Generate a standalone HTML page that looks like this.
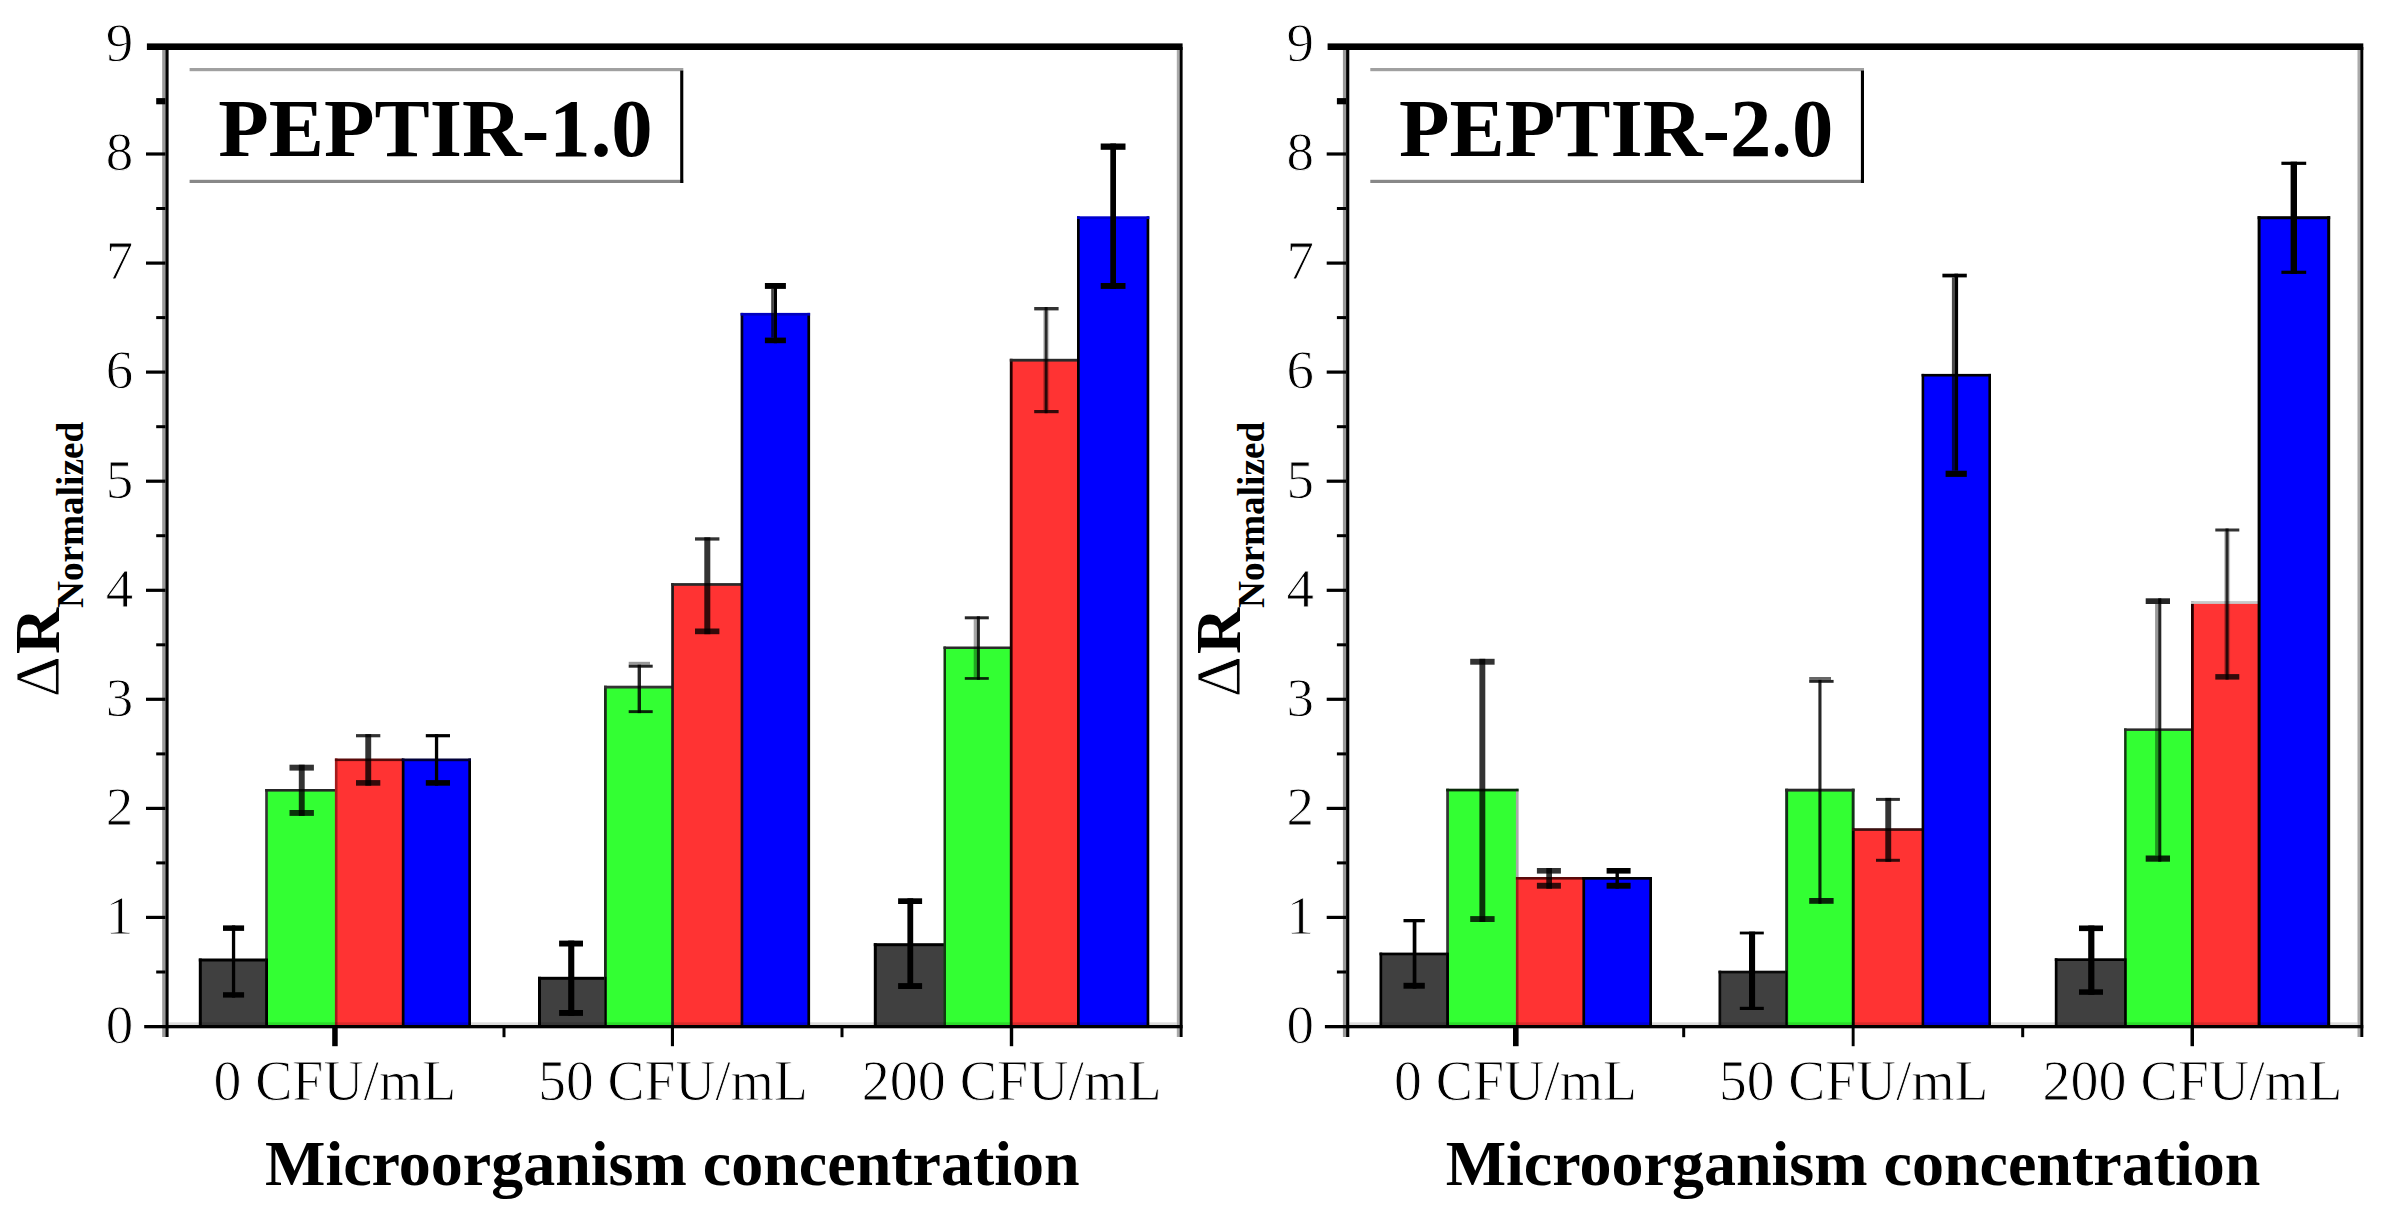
<!DOCTYPE html>
<html lang="en">
<head>
<meta charset="utf-8">
<title>PEPTIR-1.0 / PEPTIR-2.0 normalized response</title>
<style>
html,body{margin:0;padding:0;background:#fff;}
body{width:2381px;height:1211px;overflow:hidden;}
svg{display:block;}
text{font-family:"Liberation Serif","Times New Roman",serif;fill:#000;}
.tk{font-size:55px;stroke:#fff;stroke-width:0.9px;}
.xl{font-size:58px;stroke:#fff;stroke-width:0.9px;}
.xt{font-size:64px;font-weight:bold;}
.lg{font-size:82.5px;font-weight:bold;}
.yd{font-size:64px;stroke:#fff;stroke-width:0.8px;}
.yr{font-size:64px;font-weight:bold;}
.ys{font-size:38px;font-weight:bold;}
</style>
</head>
<body>
<svg width="2381" height="1211" viewBox="0 0 2381 1211">
<rect x="0" y="0" width="2381" height="1211" fill="#fff"/>
<g id="chart-left">
<rect x="200.3" y="960.0" width="67.7" height="65.5" fill="#404040"/>
<rect x="198.8" y="958.5" width="3.0" height="67.0" fill="#000"/>
<rect x="198.8" y="958.5" width="69.2" height="3.0" fill="#000"/>
<rect x="266.5" y="790.3" width="69.5" height="235.2" fill="#33ff33"/>
<rect x="265.2" y="789.0" width="2.6" height="236.5" fill="#333"/>
<rect x="265.2" y="789.0" width="70.8" height="2.6" fill="#262626"/>
<rect x="336.2" y="759.8" width="66.8" height="265.7" fill="#ff3333"/>
<rect x="334.9" y="758.5" width="2.6" height="267.0" fill="#a51c1c"/>
<rect x="334.9" y="758.5" width="68.1" height="2.6" fill="#5a0a0a"/>
<rect x="403.2" y="759.9" width="66.5" height="265.6" fill="#0000ff"/>
<rect x="401.8" y="758.5" width="2.7" height="267.0" fill="#000"/>
<rect x="468.3" y="758.5" width="2.7" height="267.0" fill="#000"/>
<rect x="401.8" y="758.5" width="69.2" height="2.7" fill="#00003a"/>
<rect x="539.5" y="978.3" width="67.1" height="47.2" fill="#404040"/>
<rect x="538.0" y="976.8" width="3.0" height="48.7" fill="#000"/>
<rect x="538.0" y="976.8" width="68.6" height="3.0" fill="#000"/>
<rect x="605.4" y="687.1" width="67.6" height="338.4" fill="#33ff33"/>
<rect x="604.0" y="685.7" width="2.8" height="339.8" fill="#1c2c1c"/>
<rect x="604.0" y="685.7" width="69.0" height="2.8" fill="#333"/>
<rect x="672.6" y="584.5" width="69.4" height="441.0" fill="#ff3333"/>
<rect x="671.2" y="583.1" width="2.7" height="442.4" fill="#1a1a1a"/>
<rect x="671.2" y="583.1" width="70.8" height="2.7" fill="#2a2a2a"/>
<rect x="742.0" y="314.2" width="66.8" height="711.2" fill="#0000ff"/>
<rect x="740.6" y="312.9" width="2.7" height="712.6" fill="#00001a"/>
<rect x="807.4" y="312.9" width="2.7" height="712.6" fill="#000"/>
<rect x="740.6" y="312.9" width="69.5" height="2.7" fill="#0000c0"/>
<rect x="875.3" y="944.7" width="71.0" height="80.8" fill="#404040"/>
<rect x="873.8" y="943.2" width="3.0" height="82.3" fill="#000"/>
<rect x="873.8" y="943.2" width="72.5" height="3.0" fill="#000"/>
<rect x="944.8" y="647.8" width="66.8" height="377.8" fill="#33ff33"/>
<rect x="943.5" y="646.5" width="2.5" height="379.0" fill="#123a12"/>
<rect x="943.5" y="646.5" width="68.0" height="2.5" fill="#2a2a2a"/>
<rect x="1011.2" y="360.2" width="67.8" height="665.3" fill="#ff3333"/>
<rect x="1009.8" y="358.8" width="2.8" height="666.7" fill="#200000"/>
<rect x="1009.8" y="358.8" width="69.2" height="2.8" fill="#2a2a2a"/>
<rect x="1078.3" y="217.7" width="69.6" height="807.9" fill="#0000ff"/>
<rect x="1077.0" y="216.3" width="2.7" height="809.2" fill="#000"/>
<rect x="1146.6" y="216.3" width="2.7" height="809.2" fill="#000"/>
<rect x="1077.0" y="216.3" width="72.3" height="2.7" fill="#0000d0"/>
<rect x="265.2" y="958.5" width="2.8" height="67.0" fill="#000"/>
<rect x="604.8" y="976.8" width="1.6" height="48.7" fill="#000"/>
<rect x="231.9" y="925.4" width="3.3" height="72.2" fill="#000"/>
<rect x="223.0" y="925.4" width="21.1" height="5.5" fill="#000"/>
<rect x="223.0" y="992.2" width="21.1" height="5.4" fill="#000"/>
<rect x="298.8" y="764.7" width="5.9" height="51.2" fill="#000" fill-opacity="0.8"/>
<rect x="289.5" y="764.7" width="24.4" height="5.9" fill="#000" fill-opacity="0.8"/>
<rect x="289.5" y="810.0" width="24.4" height="5.9" fill="#000" fill-opacity="0.8"/>
<rect x="365.3" y="734.1" width="5.9" height="51.6" fill="#000" fill-opacity="0.8"/>
<rect x="356.0" y="734.1" width="24.3" height="3.2" fill="#000" fill-opacity="0.8"/>
<rect x="356.0" y="780.1" width="24.3" height="5.6" fill="#000" fill-opacity="0.8"/>
<rect x="434.9" y="734.1" width="3.3" height="51.6" fill="#000"/>
<rect x="425.8" y="734.1" width="24.2" height="3.2" fill="#000"/>
<rect x="425.8" y="780.1" width="24.2" height="5.6" fill="#000"/>
<rect x="568.2" y="940.6" width="6.1" height="75.3" fill="#000"/>
<rect x="559.1" y="940.6" width="23.9" height="5.9" fill="#000"/>
<rect x="559.1" y="1010.0" width="23.9" height="5.9" fill="#000"/>
<rect x="637.6" y="664.7" width="3.4" height="48.4" fill="#000" fill-opacity="0.85"/>
<rect x="628.7" y="664.7" width="24.0" height="3.0" fill="#000" fill-opacity="0.85"/>
<rect x="628.7" y="710.2" width="24.0" height="2.9" fill="#000" fill-opacity="0.85"/>
<rect x="628.7" y="661.8" width="21.3" height="2.9" fill="#000" fill-opacity="0.4"/>
<rect x="704.3" y="537.3" width="6.0" height="96.9" fill="#000" fill-opacity="0.8"/>
<rect x="695.0" y="537.3" width="24.4" height="3.3" fill="#000" fill-opacity="0.8"/>
<rect x="695.0" y="628.5" width="24.4" height="5.7" fill="#000" fill-opacity="0.8"/>
<rect x="773.8" y="283.0" width="3.2" height="60.2" fill="#000"/>
<rect x="764.9" y="283.0" width="21.0" height="5.9" fill="#000"/>
<rect x="764.9" y="337.6" width="21.0" height="5.6" fill="#000"/>
<rect x="771.2" y="288.9" width="2.6" height="48.7" fill="#000" fill-opacity="0.75"/>
<rect x="907.4" y="898.3" width="5.8" height="90.7" fill="#000"/>
<rect x="898.1" y="898.3" width="24.0" height="5.7" fill="#000"/>
<rect x="898.1" y="983.1" width="24.0" height="5.9" fill="#000"/>
<rect x="976.8" y="616.3" width="3.1" height="63.5" fill="#000" fill-opacity="0.85"/>
<rect x="964.8" y="616.3" width="24.0" height="3.0" fill="#000" fill-opacity="0.85"/>
<rect x="964.8" y="677.1" width="24.0" height="2.7" fill="#000" fill-opacity="0.85"/>
<rect x="973.7" y="619.3" width="3.1" height="57.8" fill="#000" fill-opacity="0.35"/>
<rect x="1044.6" y="307.0" width="3.0" height="106.2" fill="#000" fill-opacity="0.8"/>
<rect x="1034.2" y="307.0" width="24.4" height="3.4" fill="#000" fill-opacity="0.8"/>
<rect x="1034.2" y="410.0" width="24.4" height="3.2" fill="#000" fill-opacity="0.8"/>
<rect x="1043.0" y="310.4" width="6.2" height="99.6" fill="#000" fill-opacity="0.2"/>
<rect x="1110.3" y="143.5" width="5.7" height="145.4" fill="#000"/>
<rect x="1100.7" y="143.5" width="24.8" height="6.3" fill="#000"/>
<rect x="1100.7" y="283.0" width="24.8" height="5.9" fill="#000"/>
<rect x="168.6" y="1022.3" width="1008.2" height="2.7" fill="#000" fill-opacity="0.14"/>
<rect x="146.9" y="43.4" width="1035.7" height="6.6" fill="#000"/>
<rect x="162.2" y="50.0" width="3.2" height="987.0" fill="#999"/>
<rect x="165.4" y="50.0" width="3.2" height="987.0" fill="#000"/>
<rect x="1176.8" y="50.0" width="2.8" height="987.0" fill="#aaa"/>
<rect x="1179.6" y="47.0" width="3.0" height="990.0" fill="#000"/>
<rect x="144.2" y="1025.0" width="1038.4" height="3.3" fill="#000"/>
<rect x="146.0" y="915.8" width="19.4" height="3.2" fill="#000"/>
<rect x="146.0" y="806.8" width="19.4" height="3.2" fill="#000"/>
<rect x="146.0" y="697.7" width="19.4" height="3.2" fill="#000"/>
<rect x="146.0" y="588.7" width="19.4" height="3.2" fill="#000"/>
<rect x="146.0" y="479.6" width="19.4" height="3.2" fill="#000"/>
<rect x="146.0" y="370.5" width="19.4" height="3.2" fill="#000"/>
<rect x="146.0" y="261.5" width="19.4" height="3.2" fill="#000"/>
<rect x="146.0" y="152.4" width="19.4" height="3.2" fill="#000"/>
<rect x="156.2" y="970.5" width="9.2" height="3.0" fill="#000"/>
<rect x="156.2" y="861.4" width="9.2" height="3.0" fill="#000"/>
<rect x="156.2" y="752.4" width="9.2" height="3.0" fill="#000"/>
<rect x="156.2" y="643.3" width="9.2" height="3.0" fill="#000"/>
<rect x="156.2" y="534.2" width="9.2" height="3.0" fill="#000"/>
<rect x="156.2" y="425.2" width="9.2" height="3.0" fill="#000"/>
<rect x="156.2" y="316.1" width="9.2" height="3.0" fill="#000"/>
<rect x="156.2" y="207.0" width="9.2" height="3.0" fill="#000"/>
<rect x="156.2" y="98.1" width="9.2" height="6.2" fill="#000"/>
<rect x="332.2" y="1028.0" width="5.5" height="18.2" fill="#000"/>
<rect x="670.9" y="1028.0" width="3.1" height="18.2" fill="#000"/>
<rect x="1009.8" y="1028.0" width="3.4" height="18.2" fill="#000"/>
<rect x="502.5" y="1028.0" width="3.0" height="9.2" fill="#000"/>
<rect x="840.5" y="1028.0" width="3.0" height="9.2" fill="#000"/>
</g>
<g id="chart-right">
<rect x="1380.8" y="954.0" width="68.1" height="71.5" fill="#404040"/>
<rect x="1379.5" y="952.6" width="2.7" height="72.9" fill="#000"/>
<rect x="1379.5" y="952.6" width="69.4" height="2.7" fill="#000"/>
<rect x="1447.5" y="790.1" width="69.7" height="235.4" fill="#33ff33"/>
<rect x="1446.2" y="788.7" width="2.7" height="236.8" fill="#333"/>
<rect x="1515.9" y="788.7" width="2.7" height="236.8" fill="#aaa"/>
<rect x="1446.2" y="788.7" width="72.4" height="2.7" fill="#0a2a0a"/>
<rect x="1517.2" y="878.3" width="66.8" height="147.2" fill="#ff3333"/>
<rect x="1515.9" y="877.0" width="2.6" height="148.5" fill="#a51c1c"/>
<rect x="1515.9" y="877.0" width="68.1" height="2.6" fill="#5a0a0a"/>
<rect x="1583.8" y="878.4" width="66.9" height="147.1" fill="#0000ff"/>
<rect x="1582.4" y="877.0" width="2.7" height="148.5" fill="#000"/>
<rect x="1649.3" y="877.0" width="2.7" height="148.5" fill="#000"/>
<rect x="1582.4" y="877.0" width="69.6" height="2.7" fill="#000"/>
<rect x="1719.8" y="972.1" width="67.6" height="53.4" fill="#404040"/>
<rect x="1718.5" y="970.7" width="2.7" height="54.8" fill="#0a0a0a"/>
<rect x="1718.5" y="970.7" width="68.9" height="2.7" fill="#0a0a0a"/>
<rect x="1786.7" y="790.2" width="66.5" height="235.3" fill="#33ff33"/>
<rect x="1785.2" y="788.7" width="2.9" height="236.8" fill="#14301a"/>
<rect x="1851.7" y="788.7" width="2.9" height="236.8" fill="#14301a"/>
<rect x="1785.2" y="788.7" width="69.4" height="2.9" fill="#2a2a2a"/>
<rect x="1853.3" y="829.6" width="69.7" height="195.9" fill="#ff3333"/>
<rect x="1852.0" y="828.2" width="2.7" height="197.3" fill="#000"/>
<rect x="1852.0" y="828.2" width="71.0" height="2.7" fill="#3a1010"/>
<rect x="1922.9" y="375.2" width="66.8" height="650.3" fill="#0000ff"/>
<rect x="1921.6" y="373.9" width="2.6" height="651.6" fill="#000"/>
<rect x="1988.4" y="373.9" width="2.6" height="651.6" fill="#000"/>
<rect x="1921.6" y="373.9" width="69.4" height="2.6" fill="#000"/>
<rect x="2056.2" y="959.6" width="70.4" height="65.9" fill="#404040"/>
<rect x="2054.8" y="958.3" width="2.7" height="67.2" fill="#000"/>
<rect x="2054.8" y="958.3" width="71.8" height="2.7" fill="#000"/>
<rect x="2125.3" y="729.6" width="67.2" height="295.9" fill="#33ff33"/>
<rect x="2124.1" y="728.4" width="2.5" height="297.1" fill="#123a12"/>
<rect x="2124.1" y="728.4" width="68.4" height="2.5" fill="#2a2a2a"/>
<rect x="2192.4" y="602.5" width="67.1" height="423.0" fill="#ff3333"/>
<rect x="2191.0" y="601.1" width="2.8" height="424.4" fill="#200000"/>
<rect x="2191.0" y="601.1" width="68.5" height="2.8" fill="#c8c8c8"/>
<rect x="2259.1" y="217.7" width="69.6" height="807.8" fill="#0000ff"/>
<rect x="2257.6" y="216.2" width="3.0" height="809.3" fill="#000"/>
<rect x="2327.2" y="216.2" width="3.0" height="809.3" fill="#000"/>
<rect x="2257.6" y="216.2" width="72.6" height="3.0" fill="#000"/>
<rect x="1446.2" y="952.6" width="2.7" height="72.9" fill="#000"/>
<rect x="1785.6" y="970.7" width="1.6" height="54.8" fill="#000"/>
<rect x="2124.2" y="958.3" width="2.4" height="67.2" fill="#000"/>
<rect x="1412.7" y="919.0" width="3.7" height="69.7" fill="#000"/>
<rect x="1403.5" y="919.0" width="21.3" height="3.3" fill="#000"/>
<rect x="1403.5" y="982.8" width="21.3" height="5.9" fill="#000"/>
<rect x="1479.4" y="658.8" width="5.9" height="263.2" fill="#000" fill-opacity="0.8"/>
<rect x="1470.2" y="658.8" width="24.4" height="5.9" fill="#000" fill-opacity="0.8"/>
<rect x="1470.2" y="916.1" width="24.4" height="5.9" fill="#000" fill-opacity="0.8"/>
<rect x="1546.3" y="868.0" width="5.7" height="20.7" fill="#000" fill-opacity="0.8"/>
<rect x="1536.9" y="868.0" width="24.0" height="5.6" fill="#000" fill-opacity="0.8"/>
<rect x="1536.9" y="882.8" width="24.0" height="5.9" fill="#000" fill-opacity="0.8"/>
<rect x="1615.5" y="868.0" width="3.4" height="20.7" fill="#000"/>
<rect x="1606.6" y="868.0" width="24.0" height="5.6" fill="#000"/>
<rect x="1606.6" y="882.8" width="24.0" height="5.9" fill="#000"/>
<rect x="1749.0" y="931.6" width="6.1" height="78.4" fill="#000"/>
<rect x="1739.8" y="931.6" width="24.0" height="2.8" fill="#000"/>
<rect x="1739.8" y="1006.8" width="24.0" height="3.2" fill="#000"/>
<rect x="1818.4" y="679.9" width="3.1" height="223.9" fill="#000" fill-opacity="0.85"/>
<rect x="1809.2" y="679.9" width="24.4" height="2.9" fill="#000" fill-opacity="0.85"/>
<rect x="1809.2" y="898.0" width="24.4" height="5.8" fill="#000" fill-opacity="0.85"/>
<rect x="1809.2" y="677.0" width="21.8" height="2.9" fill="#000" fill-opacity="0.6"/>
<rect x="1885.3" y="797.9" width="5.9" height="63.9" fill="#000" fill-opacity="0.8"/>
<rect x="1876.0" y="797.9" width="23.9" height="3.0" fill="#000" fill-opacity="0.8"/>
<rect x="1876.0" y="858.8" width="23.9" height="3.0" fill="#000" fill-opacity="0.8"/>
<rect x="1954.4" y="273.7" width="3.7" height="197.0" fill="#000"/>
<rect x="1942.4" y="273.7" width="24.4" height="3.7" fill="#000"/>
<rect x="1942.4" y="470.7" width="24.4" height="0.0" fill="#000"/>
<rect x="1945.6" y="470.7" width="21.2" height="6.2" fill="#000"/>
<rect x="1951.9" y="277.4" width="2.5" height="193.3" fill="#000" fill-opacity="0.7"/>
<rect x="2088.2" y="925.5" width="6.2" height="69.3" fill="#000"/>
<rect x="2079.0" y="925.5" width="24.0" height="5.6" fill="#000"/>
<rect x="2079.0" y="989.3" width="24.0" height="5.5" fill="#000"/>
<rect x="2158.2" y="598.3" width="3.1" height="263.4" fill="#000" fill-opacity="0.85"/>
<rect x="2145.7" y="598.3" width="24.3" height="5.7" fill="#000" fill-opacity="0.85"/>
<rect x="2145.7" y="855.5" width="24.3" height="6.2" fill="#000" fill-opacity="0.85"/>
<rect x="2155.1" y="604.0" width="3.1" height="251.5" fill="#000" fill-opacity="0.4"/>
<rect x="2225.5" y="528.5" width="3.1" height="151.1" fill="#000" fill-opacity="0.8"/>
<rect x="2215.3" y="528.5" width="24.0" height="3.0" fill="#000" fill-opacity="0.8"/>
<rect x="2215.3" y="674.1" width="24.0" height="5.5" fill="#000" fill-opacity="0.8"/>
<rect x="2224.0" y="531.5" width="6.1" height="142.6" fill="#000" fill-opacity="0.2"/>
<rect x="2290.6" y="161.7" width="6.4" height="112.2" fill="#000"/>
<rect x="2281.4" y="161.7" width="24.8" height="3.2" fill="#000"/>
<rect x="2281.4" y="270.7" width="24.8" height="3.2" fill="#000"/>
<rect x="1349.3" y="1022.3" width="1008.2" height="2.7" fill="#000" fill-opacity="0.14"/>
<rect x="1327.6" y="43.4" width="1035.7" height="6.6" fill="#000"/>
<rect x="1342.9" y="50.0" width="3.2" height="987.0" fill="#999"/>
<rect x="1346.1" y="50.0" width="3.2" height="987.0" fill="#000"/>
<rect x="2357.5" y="50.0" width="2.8" height="987.0" fill="#aaa"/>
<rect x="2360.3" y="47.0" width="3.0" height="990.0" fill="#000"/>
<rect x="1324.9" y="1025.0" width="1038.4" height="3.3" fill="#000"/>
<rect x="1326.7" y="915.8" width="19.4" height="3.2" fill="#000"/>
<rect x="1326.7" y="806.8" width="19.4" height="3.2" fill="#000"/>
<rect x="1326.7" y="697.7" width="19.4" height="3.2" fill="#000"/>
<rect x="1326.7" y="588.7" width="19.4" height="3.2" fill="#000"/>
<rect x="1326.7" y="479.6" width="19.4" height="3.2" fill="#000"/>
<rect x="1326.7" y="370.5" width="19.4" height="3.2" fill="#000"/>
<rect x="1326.7" y="261.5" width="19.4" height="3.2" fill="#000"/>
<rect x="1326.7" y="152.4" width="19.4" height="3.2" fill="#000"/>
<rect x="1336.9" y="970.5" width="9.2" height="3.0" fill="#000"/>
<rect x="1336.9" y="861.4" width="9.2" height="3.0" fill="#000"/>
<rect x="1336.9" y="752.4" width="9.2" height="3.0" fill="#000"/>
<rect x="1336.9" y="643.3" width="9.2" height="3.0" fill="#000"/>
<rect x="1336.9" y="534.2" width="9.2" height="3.0" fill="#000"/>
<rect x="1336.9" y="425.2" width="9.2" height="3.0" fill="#000"/>
<rect x="1336.9" y="316.1" width="9.2" height="3.0" fill="#000"/>
<rect x="1336.9" y="207.0" width="9.2" height="3.0" fill="#000"/>
<rect x="1336.9" y="98.1" width="9.2" height="6.2" fill="#000"/>
<rect x="1513.0" y="1028.0" width="5.6" height="18.2" fill="#000"/>
<rect x="1851.7" y="1028.0" width="2.9" height="18.2" fill="#000"/>
<rect x="2190.5" y="1028.0" width="3.5" height="18.2" fill="#000"/>
<rect x="1682.2" y="1028.0" width="3.0" height="9.2" fill="#000"/>
<rect x="2021.2" y="1028.0" width="3.0" height="9.2" fill="#000"/>
</g>
<g id="labels">
<text class="tk" x="133.3" y="1042.8" text-anchor="end">0</text>
<text class="tk" x="133.3" y="933.7" text-anchor="end">1</text>
<text class="tk" x="133.3" y="824.7" text-anchor="end">2</text>
<text class="tk" x="133.3" y="715.6" text-anchor="end">3</text>
<text class="tk" x="133.3" y="606.6" text-anchor="end">4</text>
<text class="tk" x="133.3" y="497.5" text-anchor="end">5</text>
<text class="tk" x="133.3" y="388.4" text-anchor="end">6</text>
<text class="tk" x="133.3" y="279.4" text-anchor="end">7</text>
<text class="tk" x="133.3" y="170.3" text-anchor="end">8</text>
<text class="tk" x="133.3" y="61.0" text-anchor="end">9</text>
<text class="xl" x="334.9" y="1100" text-anchor="middle" textLength="243.0" lengthAdjust="spacingAndGlyphs">0 CFU/mL</text>
<text class="xl" x="673.0" y="1100" text-anchor="middle" textLength="269.5" lengthAdjust="spacingAndGlyphs">50 CFU/mL</text>
<text class="xl" x="1011.8" y="1100" text-anchor="middle" textLength="300.0" lengthAdjust="spacingAndGlyphs">200 CFU/mL</text>
<text class="xt" x="672.3" y="1185" text-anchor="middle">Microorganism concentration</text>
<rect x="189.6" y="68.0" width="493.7" height="3.2" fill="#a0a0a0"/>
<rect x="189.6" y="179.8" width="493.7" height="3.2" fill="#888"/>
<rect x="680.2" y="70.6" width="3.1" height="112.4" fill="#000"/>
<text class="lg" x="435.5" y="155.8" text-anchor="middle" textLength="434.5" lengthAdjust="spacingAndGlyphs">PEPTIR-1.0</text>
<g transform="translate(0.0,0) rotate(-90)"><text class="yd" x="-697.3" y="59.4">Δ</text><text class="yr" x="-654.0" y="59.4">R</text><text class="ys" x="-607.9" y="82.9" textLength="186" lengthAdjust="spacingAndGlyphs">Normalized</text></g>
<text class="tk" x="1314.0" y="1042.8" text-anchor="end">0</text>
<text class="tk" x="1314.0" y="933.7" text-anchor="end">1</text>
<text class="tk" x="1314.0" y="824.7" text-anchor="end">2</text>
<text class="tk" x="1314.0" y="715.6" text-anchor="end">3</text>
<text class="tk" x="1314.0" y="606.6" text-anchor="end">4</text>
<text class="tk" x="1314.0" y="497.5" text-anchor="end">5</text>
<text class="tk" x="1314.0" y="388.4" text-anchor="end">6</text>
<text class="tk" x="1314.0" y="279.4" text-anchor="end">7</text>
<text class="tk" x="1314.0" y="170.3" text-anchor="end">8</text>
<text class="tk" x="1314.0" y="61.0" text-anchor="end">9</text>
<text class="xl" x="1515.6" y="1100" text-anchor="middle" textLength="243.0" lengthAdjust="spacingAndGlyphs">0 CFU/mL</text>
<text class="xl" x="1853.7" y="1100" text-anchor="middle" textLength="269.5" lengthAdjust="spacingAndGlyphs">50 CFU/mL</text>
<text class="xl" x="2192.5" y="1100" text-anchor="middle" textLength="300.0" lengthAdjust="spacingAndGlyphs">200 CFU/mL</text>
<text class="xt" x="1853.0" y="1185" text-anchor="middle">Microorganism concentration</text>
<rect x="1370.3" y="68.0" width="493.7" height="3.2" fill="#a0a0a0"/>
<rect x="1370.3" y="179.8" width="493.7" height="3.2" fill="#888"/>
<rect x="1860.9" y="70.6" width="3.1" height="112.4" fill="#000"/>
<text class="lg" x="1616.2" y="155.8" text-anchor="middle" textLength="434.5" lengthAdjust="spacingAndGlyphs">PEPTIR-2.0</text>
<g transform="translate(1180.7,0) rotate(-90)"><text class="yd" x="-697.3" y="59.4">Δ</text><text class="yr" x="-654.0" y="59.4">R</text><text class="ys" x="-607.9" y="82.9" textLength="186" lengthAdjust="spacingAndGlyphs">Normalized</text></g>
</g>
</svg>
</body>
</html>
